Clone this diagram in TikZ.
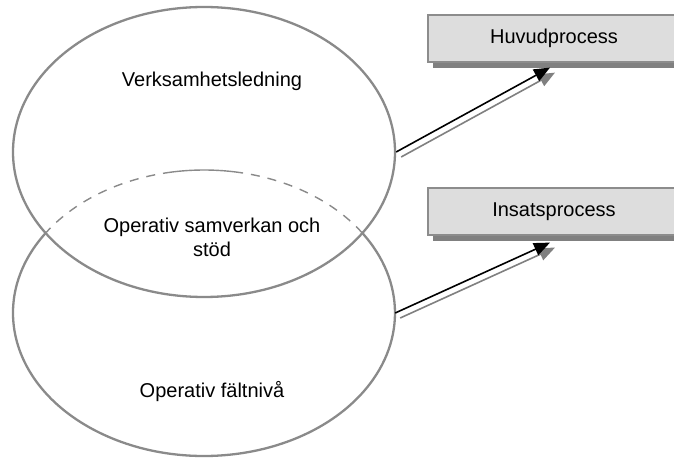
\documentclass[tikz,border=0pt]{standalone}
\usepackage{fontspec}
\setmainfont{Liberation Sans}
\usetikzlibrary{shapes.geometric,arrows.meta,shadows}

\definecolor{edgegray}{HTML}{8A8A8A}
\definecolor{boxfill}{HTML}{DDDDDD}
\definecolor{boxline}{HTML}{8C8C8C}
\definecolor{shadowgray}{HTML}{808080}

\tikzset{
  lvl/.style={ellipse, minimum width=382pt, minimum height=290pt, inner sep=0pt},
  lvltext/.style={font=\fontsize{20}{24}\selectfont, align=center, inner sep=0pt},
  procbox/.style={draw=boxline, line width=1.2pt, fill=boxfill,
    minimum width=252pt, minimum height=47pt, inner sep=0pt,
    font=\fontsize{20}{24}\selectfont,
    drop shadow={shadow xshift=5pt, shadow yshift=-6pt, fill=shadowgray, opacity=1}},
  hiddenarc/.style={draw=edgegray, line width=1.4pt, dash pattern=on 9pt off 8pt, dash phase=9pt},
  flow/.style={line width=1.6pt, -{Triangle[length=16pt,width=13pt]}},
  flowshadow/.style={flow, draw=shadowgray, fill=shadowgray,
    transform canvas={xshift=5pt, yshift=-5pt}},
}

\begin{document}
\begin{tikzpicture}[x=1pt, y=1pt]
  \useasboundingbox (0,0) rectangle (674,458);
  \clip (0,0) rectangle (674,458);

  % the two organisational levels
  \node[lvl, draw=edgegray, line width=2.3pt] (upper) at (204,306) {};
  \node[lvl] (lower) at (204,145) {};

  % visible part of the lower level
  \draw[draw=edgegray, line width=2.3pt] (lower.center) ++(145.7:191pt and 143pt)
    arc[start angle=145.7, end angle=394.3, x radius=191pt, y radius=143pt];
  % part of the lower level lying inside the upper one
  \draw[hiddenarc] (lower.center) ++(102.4:191pt and 143pt)
    arc[start angle=102.4, end angle=145.7, x radius=191pt, y radius=143pt];
  \draw[hiddenarc] (lower.center) ++(78.2:191pt and 143pt)
    arc[start angle=78.2, end angle=34.3, x radius=191pt, y radius=143pt];
  \draw[draw=edgegray, line width=1.4pt] (lower.center) ++(78.2:191pt and 143pt)
    arc[start angle=78.2, end angle=102.4, x radius=191pt, y radius=143pt];

  % level labels
  \node[lvltext, anchor=base] (tl) at (212,371) {Verksamhetsledning};
  \node[lvltext, anchor=base] (ml) at (212,225) {Operativ samverkan och};
  \node[lvltext, anchor=base] (ml2) at (212,201) {stöd};
  \node[lvltext, anchor=base] (bl) at (212,61) {Operativ fältnivå};

  % processes
  \node[procbox] (hp) at (554,419.5) {Huvudprocess};
  \node[procbox] (ip) at (554,246.5) {Insatsprocess};

  \coordinate (hpin) at ([shift={(-4,-5)}]hp.south);
  \coordinate (ipin) at ([shift={(-4,-7)}]ip.south);

  % connectors with their shadows
  \draw[flowshadow] (upper.east) -- (hpin);
  \draw[flowshadow] (lower.east) -- (ipin);
  \draw[flow] (upper.east) -- (hpin);
  \draw[flow] (lower.east) -- (ipin);
\end{tikzpicture}
\end{document}
